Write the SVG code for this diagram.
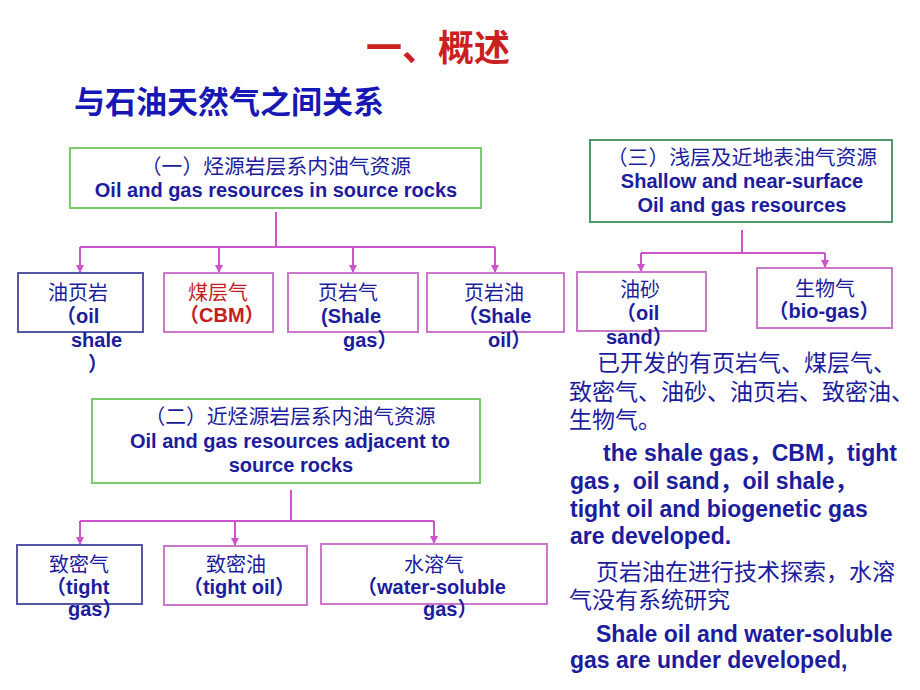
<svg xmlns="http://www.w3.org/2000/svg" width="920" height="690" viewBox="0 0 920 690">
<defs>
<style>
text{font-family:"Liberation Sans","Noto Sans CJK SC",sans-serif;fill:#1c1c9e;font-size:20px}
.b{font-weight:bold}
.mid{text-anchor:middle}
.hz{font-size:20.8px}
.title{font-size:36px;font-weight:bold;fill:#cc1f1f}
.sub{font-size:31px;font-weight:bold;fill:#1717b5}
.para{font-size:23px}
.paraE{font-size:23px;font-weight:bold}
.red{fill:#c41e1e}
.gbox{fill:#fff;stroke:#7acc6a;stroke-width:2}
.gbox2{fill:#fff;stroke:#4f9a6c;stroke-width:2}
.pbox{fill:#fff;stroke:#cc77cc;stroke-width:2}
.bbox{fill:#fff;stroke:#5656a8;stroke-width:2}
.conn{fill:none;stroke:#cc55cc;stroke-width:2}
</style>
<marker id="arr" markerUnits="userSpaceOnUse" markerWidth="9" markerHeight="9" refX="8" refY="4" orient="auto">
<path d="M0,0 L8,4 L0,8 z" fill="#cc55cc"/>
</marker>
</defs>
<rect width="920" height="690" fill="#fff"/>

<g id="title">
<text class="title" x="366" y="61">一、概述</text>
<text class="sub" x="74" y="113">与石油天然气之间关系</text>
</g>

<g id="connectors">
<path class="conn" d="M276,212 V247 M80,247 H495 M742,230 V253 M641,253 H825 M291,490 V521 M80,521 H434"/>
<path class="conn" marker-end="url(#arr)" d="M80,247 V273"/>
<path class="conn" marker-end="url(#arr)" d="M219,247 V273"/>
<path class="conn" marker-end="url(#arr)" d="M353,247 V273"/>
<path class="conn" marker-end="url(#arr)" d="M495,247 V273"/>
<path class="conn" marker-end="url(#arr)" d="M641,253 V272"/>
<path class="conn" marker-end="url(#arr)" d="M825,253 V268"/>
<path class="conn" marker-end="url(#arr)" d="M80,521 V545"/>
<path class="conn" marker-end="url(#arr)" d="M235,521 V546"/>
<path class="conn" marker-end="url(#arr)" d="M434,521 V544"/>
</g>

<g id="node-source">
<rect class="gbox" x="70" y="148" width="411" height="60"/>
<text class="mid hz" x="276" y="174">（一）烃源岩层系内油气资源</text>
<text class="mid b" x="276" y="197">Oil and gas resources in source rocks</text>
</g>

<g id="node-shallow">
<rect class="gbox2" x="590" y="140" width="302" height="82"/>
<text class="mid hz" x="742" y="165">（三）浅层及近地表油气资源</text>
<text class="mid b" x="742" y="188">Shallow and near-surface</text>
<text class="mid b" x="742" y="212">Oil and gas resources</text>
</g>

<g id="node-adjacent">
<rect class="gbox" x="92" y="399" width="388" height="84"/>
<text class="mid hz" x="290" y="424">（二）近烃源岩层系内油气资源</text>
<text class="mid b" x="290" y="448">Oil and gas resources adjacent to</text>
<text class="mid b" x="291" y="472">source rocks</text>
</g>

<g id="node-oilshale">
<rect class="bbox" x="18" y="273" width="125" height="59"/>
<text x="48" y="300">油页岩</text>
<text class="b" x="56" y="323">（oil</text>
<text class="b" x="71" y="347">shale</text>
<text class="b" x="88" y="371">）</text>
</g>

<g id="node-cbm">
<rect class="pbox" x="164" y="273" width="109" height="59"/>
<text class="mid red" x="218" y="300">煤层气</text>
<text class="b red" x="179" y="322">（CBM）</text>
</g>

<g id="node-shalegas">
<rect class="pbox" x="288" y="273" width="130" height="59"/>
<text x="318" y="300">页岩气</text>
<text class="b" x="321" y="323">(Shale</text>
<text class="b" x="343" y="347">gas）</text>
</g>

<g id="node-shaleoil">
<rect class="pbox" x="427" y="273" width="137" height="59"/>
<text x="464" y="300">页岩油</text>
<text class="b" x="458" y="323">（Shale</text>
<text class="b" x="488" y="347">oil）</text>
</g>

<g id="node-oilsand">
<rect class="pbox" x="577" y="272" width="129" height="59"/>
<text x="620" y="297">油砂</text>
<text class="b" x="616" y="320">（oil</text>
<text class="b" x="606" y="344">sand）</text>
</g>

<g id="node-biogas">
<rect class="pbox" x="757" y="268" width="135" height="60"/>
<text class="mid" x="825" y="296">生物气</text>
<text class="mid b" x="824" y="318">（bio-gas）</text>
</g>

<g id="node-tightgas">
<rect class="bbox" x="17" y="545" width="125" height="59"/>
<text x="49" y="572">致密气</text>
<text class="b" x="46" y="594">（tight</text>
<text class="b" x="68" y="616">gas）</text>
</g>

<g id="node-tightoil">
<rect class="pbox" x="164" y="546" width="143" height="59"/>
<text class="mid" x="236" y="572">致密油</text>
<text class="mid b" x="239" y="594">（tight oil）</text>
</g>

<g id="node-watersoluble">
<rect class="pbox" x="321" y="544" width="226" height="60"/>
<text class="mid" x="434" y="572">水溶气</text>
<text class="b" x="357" y="594">（water-soluble</text>
<text class="b" x="423" y="616">gas）</text>
</g>

<g id="notes">
<text class="para" x="597" y="371">已开发的有页岩气、煤层气、</text>
<text class="para" x="569" y="400">致密气、油砂、油页岩、致密油、</text>
<text class="para" x="569" y="428">生物气。</text>
<text class="paraE" x="603" y="461">the shale gas，CBM，tight</text>
<text class="paraE" x="570" y="489">gas，oil sand，oil shale，</text>
<text class="paraE" x="570" y="517">tight oil and biogenetic gas</text>
<text class="paraE" x="570" y="544">are developed.</text>
<text class="para" x="596" y="580">页岩油在进行技术探索，水溶</text>
<text class="para" x="569" y="608">气没有系统研究</text>
<text class="paraE" x="596" y="642">Shale oil and water-soluble</text>
<text class="paraE" x="570" y="668">gas are under developed,</text>
</g>
</svg>
